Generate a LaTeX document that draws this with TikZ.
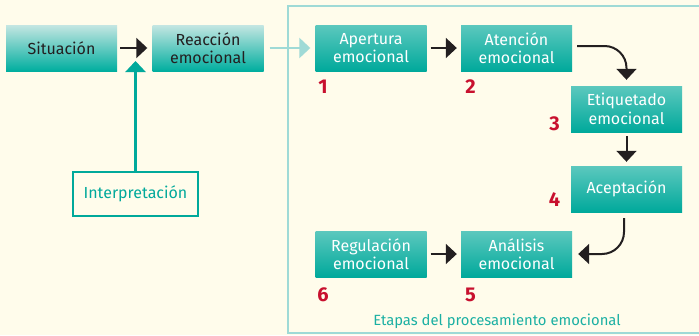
\documentclass[tikz,border=0pt]{standalone}
\usepackage{fontspec}
\setmainfont{Fira Sans}
\usetikzlibrary{arrows.meta}
\definecolor{bg}{HTML}{FFFCEB}
\definecolor{tealdk}{HTML}{00A99B}
\definecolor{tealtop}{HTML}{5CC8BE}
\definecolor{tealpale}{HTML}{C4E6E2}
\definecolor{tealbot}{HTML}{00AE9F}
\definecolor{tealline}{HTML}{9FDAD6}
\definecolor{inkblk}{HTML}{231F20}
\definecolor{numred}{HTML}{C8102E}
\definecolor{captxt}{HTML}{1BB0A3}
\begin{document}
\begin{tikzpicture}[x=1pt,y=-1pt,
  boxbase/.style={minimum width=111pt, minimum height=46pt, inner sep=0pt, align=center,
    font=\fontsize{16}{18.5}\selectfont},
  pale/.style={boxbase, top color=tealpale, bottom color=tealbot, text=inkblk},
  stage/.style={boxbase, top color=tealtop, bottom color=tealdk, text=white},
  outlined/.style={draw=tealdk, line width=2.5pt, fill=bg, minimum width=125pt, minimum height=44pt,
    inner sep=0pt, text=tealdk, font=\fontsize{16}{18.5}\selectfont},
  num/.style={text=numred, font=\fontsize{20}{22}\selectfont\bfseries, inner sep=0pt},
  blk/.style={draw=inkblk, line width=2pt, -{Triangle[length=11pt,width=20pt]}},
  tarrow/.style={draw=tealdk, line width=2.5pt, -{Triangle[length=11pt,width=20pt]}},
  larrow/.style={draw=tealline, line width=2.5pt, -{Triangle[length=11pt,width=20pt]}},
  frame/.style={draw=tealline, line width=2.5pt}]
\fill[bg] (0,0) rectangle (699,335);
\useasboundingbox (0,0) rectangle (699,335);
\clip (0,0) rectangle (699,335);

\draw[frame] (288,6) rectangle (720,333);

\node[pale] (sit) at (61.5,48) {Situación};
\node[pale] (rea) at (208,48) {Reacción\\emocional};
\node[outlined] (interp) at (135.5,194) {Interpretación};
\coordinate (jn) at (135.5,61);

\node[stage] (ape) at (371,48) {Apertura\\emocional};
\node[stage] (ate) at (516.5,48) {Atención\\emocional};
\node[stage] (eti) at (626.5,109) {Etiquetado\\emocional};
\node[stage] (acc) at (626.5,189) {Aceptación};
\node[stage] (ana) at (516.5,254) {Análisis\\emocional};
\node[stage] (reg) at (371,254) {Regulación\\emocional};

\node[num] (n1) at (323,87) {1};
\node[num] (n2) at (470.5,87) {2};
\node[num] (n3) at (554.5,124) {3};
\node[num] (n4) at (554.5,200) {4};
\node[num] (n5) at (470.5,295) {5};
\node[num] (n6) at (323,295) {6};

\node[text=captxt, font=\fontsize{14.8}{17}\selectfont, inner sep=0pt] (cap) at (497,321) {Etapas del procesamiento emocional};

\draw[blk, shorten <=3pt, shorten >=5pt] (sit) -- (rea);
\draw[tarrow] (interp.north) -- (jn);
\draw[larrow, shorten <=6pt, shorten >=5pt] (rea) -- (ape);
\draw[blk, shorten <=4pt, shorten >=4pt] (ape) -- (ate);
\draw[blk, rounded corners=22pt, shorten >=6pt] ([xshift=5pt,yshift=2pt]ate.east) -| (eti.north);
\draw[blk, shorten <=4pt, shorten >=4pt] (eti) -- (acc);
\draw[blk, rounded corners=22pt, shorten >=6pt] ([xshift=-2.5pt,yshift=-6pt]acc.south) |- (ana.east);
\draw[blk, shorten <=4pt, shorten >=4pt] (reg) -- (ana);
\end{tikzpicture}
\end{document}
